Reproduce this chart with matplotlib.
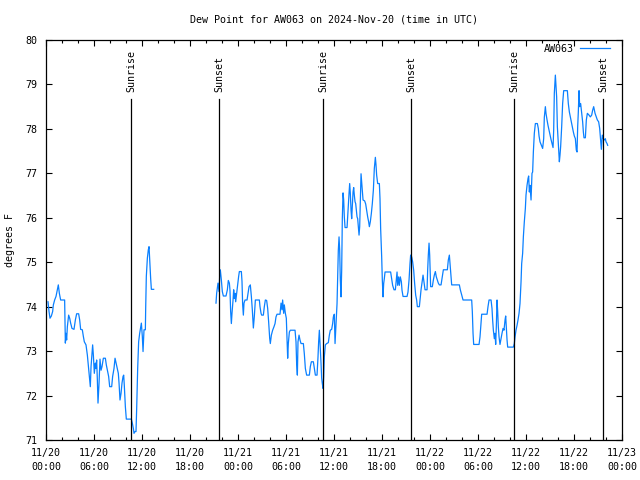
import numpy as np
import pandas as pd
import matplotlib
matplotlib.use("Agg")
import matplotlib.pyplot as plt
import matplotlib.dates as mdates

plt.rcParams['font.family'] = ['DejaVu Sans Mono']
plt.rcParams['font.size'] = 7.2

start = pd.Timestamp("2024-11-20 00:00")
x_end = pd.Timestamp("2024-11-23 00:00")

# hours after 11/20 00:00 UTC and dew point (F); the record has a gap after 13:30
hours_a = [0.25, 0.38, 0.5, 0.67, 0.83, 0.92, 1.08, 1.25, 1.42, 1.54, 1.67, 1.83, 2.33, 2.38, 2.42,
           2.5, 2.58, 2.67, 2.83, 2.96, 3.08, 3.25, 3.5, 3.67, 3.83, 4.08, 4.21, 4.33, 4.54, 4.67,
           4.79, 5.0, 5.17, 5.29, 5.42, 5.54, 5.63, 5.75, 5.83, 5.92, 6.0, 6.04, 6.17, 6.25, 6.33,
           6.42, 6.5, 6.63, 6.75, 6.88, 7.0, 7.17, 7.42, 7.54, 7.67, 7.83, 7.96, 8.21, 8.33, 8.5,
           8.63, 8.75, 8.92, 9.04, 9.13, 9.25, 9.38, 9.5, 9.63, 9.71, 9.79, 9.92, 10.04, 10.67,
           10.79, 10.92, 11.0, 11.13, 11.25, 11.33, 11.46, 11.58, 11.71, 11.83, 11.92, 12.04,
           12.13, 12.25, 12.42, 12.46, 12.54, 12.67, 12.79, 12.88, 12.96, 13.08, 13.17, 13.46]
dew_a = [74.11, 73.89, 73.74, 73.79, 73.89, 74.04, 74.15, 74.23, 74.38, 74.49, 74.30, 74.15, 74.15,
         73.66, 73.18, 73.40, 73.25, 73.55, 73.81, 73.74, 73.63, 73.51, 73.49, 73.70, 73.84, 73.84,
         73.70, 73.49, 73.48, 73.33, 73.21, 73.14, 72.91, 72.69, 72.43, 72.20, 72.65, 72.95, 73.14,
         72.91, 72.65, 72.50, 72.73, 72.61, 72.80, 72.35, 71.83, 72.28, 72.82, 72.57, 72.65, 72.84,
         72.84, 72.69, 72.57, 72.43, 72.20, 72.20, 72.43, 72.61, 72.84, 72.74, 72.61, 72.50, 72.28,
         71.90, 72.05, 72.28, 72.43, 72.46, 72.22, 71.75, 71.47, 71.47, 71.38, 71.26, 71.15, 71.19,
         71.19, 71.68, 72.61, 73.21, 73.40, 73.54, 73.63, 73.33, 72.99, 73.48, 73.48, 73.96, 74.68,
         75.09, 75.28, 75.35, 75.05, 74.64, 74.39, 74.39]

hours_b = [21.25, 21.33, 21.5, 21.63, 21.71, 21.79, 21.92, 22.04, 22.17, 22.5, 22.67, 22.79, 22.92,
           23.0, 23.08, 23.17, 23.25, 23.38, 23.46, 23.54, 23.63, 23.71, 23.83, 23.96, 24.08, 24.17,
           24.42, 24.5, 24.58, 24.67, 24.75, 24.88, 25.13, 25.25, 25.38, 25.54, 25.67, 25.79, 25.92,
           26.04, 26.17, 26.67, 26.75, 26.88, 26.96, 27.17, 27.29, 27.42, 27.58, 27.71, 27.83, 27.96,
           28.04, 28.17, 28.33, 28.5, 28.63, 28.75, 28.88, 29.25, 29.38, 29.5, 29.58, 29.71, 29.79,
           29.92, 30.04, 30.13, 30.21, 30.29, 30.42, 30.54, 31.13, 31.25, 31.33, 31.42, 31.5, 31.63,
           31.75, 31.88, 32.17, 32.29, 32.42, 32.58, 32.92, 33.04, 33.17, 33.42, 33.54, 33.67, 33.88,
           34.0, 34.08, 34.17, 34.25,
           34.38, 34.46, 34.54, 34.63, 34.71, 34.79, 34.92, 35.08, 35.29, 35.42, 35.54, 35.71, 35.83,
           35.92, 36.04, 36.13, 36.21, 36.29, 36.38, 36.46, 36.54, 36.63, 36.71, 36.79, 36.88, 36.96,
           37.04, 37.13, 37.21, 37.29, 37.38, 37.63, 37.75, 37.88, 37.96, 38.04, 38.13, 38.21, 38.29,
           38.38, 38.46, 38.54, 38.63, 38.71, 38.79, 38.88, 38.96, 39.04, 39.13, 39.21, 39.29, 39.38,
           39.46, 39.54, 39.63, 39.83, 39.96, 40.08, 40.21, 40.33, 40.42, 40.54, 40.67, 40.79, 40.92,
           41.04, 41.17, 41.25, 41.33, 41.46, 41.67, 41.75, 41.83, 41.96, 42.04, 42.13, 42.21, 42.29,
           42.38, 43.08, 43.21, 43.33, 43.5, 43.67, 43.79, 43.88, 43.96, 44.08, 44.17, 44.29, 44.42,
           44.5, 44.63, 45.13, 45.25, 45.38, 45.5, 45.58, 45.71, 45.83, 45.96, 46.08, 46.21, 46.33,
           46.42, 46.67,
           46.75, 46.88, 47.0, 47.13, 47.25, 47.38, 47.63, 47.71, 47.79, 47.88, 47.96, 48.08, 48.29,
           48.42, 48.54, 48.67, 48.79, 48.92, 49.04, 49.17, 49.38, 49.54, 49.67, 50.17, 50.29, 50.42,
           50.5, 50.63, 50.71, 51.67, 51.79, 51.96, 52.13, 53.21, 53.29, 53.38, 53.46, 54.13, 54.25,
           54.38, 54.46, 55.13, 55.25, 55.38, 55.63, 55.75, 55.83, 55.92, 56.04, 56.13, 56.21, 56.29,
           56.38, 56.46, 56.54, 56.63, 56.75, 56.88, 57.0, 57.13, 57.25, 57.38, 57.46, 57.54, 57.63,
           57.71, 58.42,
           58.54, 58.63, 58.75, 58.88, 59.0, 59.13, 59.25, 59.38, 59.46, 59.58, 59.67, 59.79, 59.92,
           60.0, 60.13, 60.25, 60.33, 60.42, 60.5, 60.63, 60.75, 60.83, 60.92, 61.04, 61.17, 61.42,
           61.54, 61.63, 61.75, 61.92, 62.08, 62.21, 62.29, 62.42, 62.5, 62.63, 62.75, 62.88, 63.0,
           63.13, 63.25, 63.38, 63.46, 63.54, 63.67, 63.75, 63.83, 63.92, 64.04, 64.17, 64.25, 64.33,
           64.46, 64.58, 64.71, 65.17, 65.29, 65.42, 65.54, 65.67, 65.79, 65.92, 66.04, 66.17, 66.29,
           66.38, 66.46, 66.54, 66.63, 66.71, 66.83, 66.96, 67.08, 67.17, 67.25, 67.42, 67.54, 67.67,
           67.88, 68.04, 68.21, 68.33, 68.46, 68.63, 68.79, 68.92, 69.08, 69.21, 69.33, 69.42, 69.54,
           69.67, 69.79, 69.92, 70.0, 70.13, 70.21]
dew_b = [74.08, 74.30, 74.53, 74.34, 74.68, 74.83, 74.60, 74.34, 74.24, 74.24, 74.38, 74.59, 74.53,
         74.36, 73.89, 73.62, 73.85, 74.15, 74.38, 74.19, 74.30, 74.11, 74.30, 74.49, 74.68, 74.79,
         74.79, 74.57, 74.05, 73.81, 74.08, 74.15, 74.15, 74.30, 74.45, 74.49, 74.23, 73.93, 73.52,
         73.78, 74.15, 74.15, 74.00, 73.85, 73.81, 73.81, 74.00, 74.15, 74.14, 73.96, 73.66, 73.29,
         73.17, 73.36, 73.47, 73.55, 73.62, 73.77, 73.83, 73.83, 74.08, 73.93, 74.15, 73.85, 74.04,
         73.85, 73.74, 73.25, 72.84, 73.17, 73.43, 73.47, 73.47, 73.21, 72.72, 72.46, 73.21, 73.36,
         73.25, 73.17, 73.17, 72.94, 72.61, 72.46, 72.46, 72.65, 72.76, 72.76, 72.61, 72.46, 72.46,
         72.87, 73.21, 73.47, 73.19,
         72.72, 72.39, 72.27, 72.16, 72.42, 72.87, 73.14, 73.17, 73.19, 73.36, 73.47, 73.49, 73.62,
         73.77, 73.83, 73.17, 73.47, 73.77, 74.07, 74.67, 75.27, 75.57, 75.27, 74.60, 74.22, 74.82,
         75.98, 76.56, 76.40, 76.02, 75.78, 75.78, 76.17, 76.55, 76.77, 76.55, 76.17, 75.98, 76.28,
         76.58, 76.68, 76.51, 76.36, 76.32, 76.17, 76.02, 75.98, 75.80, 75.61, 75.80, 76.40, 76.99,
         76.81, 76.62, 76.40, 76.38, 76.31, 76.17, 76.02, 75.91, 75.80, 75.91, 76.10, 76.32, 76.62,
         77.11, 77.36, 77.19, 76.96, 76.77, 76.77, 76.43, 75.76, 75.12, 74.60, 74.22, 74.52, 74.63,
         74.78, 74.78, 74.63, 74.48, 74.38, 74.38, 74.60, 74.78, 74.48, 74.67, 74.48, 74.67, 74.56,
         74.37, 74.23, 74.23, 74.33, 74.60, 74.97, 75.16, 75.12, 75.01, 74.82, 74.52, 74.26, 74.15,
         74.00, 74.00,
         74.15, 74.38, 74.53, 74.71, 74.56, 74.38, 74.38, 74.83, 75.16, 75.43, 75.16, 74.45, 74.45,
         74.60, 74.71, 74.79, 74.67, 74.60, 74.53, 74.49, 74.49, 74.67, 74.83, 74.83, 75.05, 75.16,
         74.98, 74.67, 74.49, 74.49, 74.38, 74.26, 74.15, 74.15, 73.89, 73.40, 73.15, 73.15, 73.32,
         73.62, 73.83, 73.83, 74.00, 74.15, 74.15, 73.96, 73.70, 73.47, 73.28, 73.40, 73.15, 73.55,
         74.15, 73.89, 73.55, 73.32, 73.15, 73.28, 73.40, 73.51, 73.47, 73.70, 73.79, 73.55, 73.25,
         73.09, 73.09,
         73.17, 73.32, 73.47, 73.58, 73.70, 73.85, 74.07, 74.56, 74.97, 75.20, 75.57, 75.91, 76.21,
         76.51, 76.73, 76.88, 76.94, 76.58, 76.73, 76.40, 77.00, 77.03, 77.48, 77.90, 78.12, 78.12,
         78.01, 77.84, 77.71, 77.63, 77.56, 77.78, 78.26, 78.50, 78.35, 78.20, 78.08, 77.97, 77.86,
         77.76, 77.67, 77.58, 77.97, 78.80, 79.21, 78.95, 78.72, 78.05, 77.67, 77.26, 77.41, 77.60,
         78.05, 78.57, 78.86, 78.86, 78.57, 78.38, 78.27, 78.16, 78.05, 77.93, 77.84, 77.78, 77.52,
         77.48, 78.05, 78.38, 78.86, 78.50, 78.57, 78.35, 78.16, 77.93, 77.80, 77.80, 78.20, 78.35,
         78.31, 78.27, 78.31, 78.42, 78.50, 78.35, 78.27, 78.20, 78.16, 78.01, 77.75, 77.54, 77.86,
         77.78, 77.75, 77.78, 77.71, 77.67, 77.63]

sunrise = ["2024-11-20 10:40", "2024-11-21 10:40", "2024-11-22 10:33"]
sunset = ["2024-11-20 21:38", "2024-11-21 21:38", "2024-11-22 21:40"]

hours = hours_a + [np.nan] + hours_b
dew = dew_a + [np.nan] + dew_b
times = [start + pd.Timedelta(hours=h) if not np.isnan(h) else pd.NaT for h in hours]
times = pd.to_datetime(times)

fig = plt.figure(figsize=(6.4, 4.8), dpi=100)
ax = fig.add_axes([46 / 640, 40 / 480, 576 / 640, 400 / 480])

ax.plot(times, dew, color='#0a80ff', lw=0.9, label='AW063')

# sunrise / sunset markers
events = [(t, 'Sunrise') for t in sunrise] + [(t, 'Sunset') for t in sunset]
for t, name in events:
    t = pd.Timestamp(t)
    ax.plot([t, t], [71, 78.67], color='black', lw=0.9)
    ax.text(t, 78.83, name, rotation=90, ha='center', va='bottom')

ax.set_xlim(start, x_end)
ax.set_ylim(71, 80)
ax.set_yticks(range(71, 81))
ax.xaxis.set_major_locator(mdates.HourLocator(byhour=[0, 6, 12, 18]))
ax.xaxis.set_minor_locator(mdates.HourLocator(byhour=range(0, 24, 2)))
ax.xaxis.set_major_formatter(mdates.DateFormatter('%m/%d\n%H:%M'))

ax.tick_params(which='both', direction='in', top=True, right=True, width=0.8, labelsize=7.2)
ax.tick_params(which='major', length=4.5)
ax.tick_params(which='minor', length=2.5)
ax.tick_params(axis='x', pad=6)
ax.tick_params(axis='y', pad=6)
for lbl in ax.get_xticklabels():
    lbl.set_linespacing(1.45)
for s in ax.spines.values():
    s.set_linewidth(0.9)

ax.set_ylabel('degrees F')
ax.yaxis.set_label_coords(-0.053, 0.5)

fig.text(334 / 640, 1 - 19 / 480, 'Dew Point for AW063 on 2024-Nov-20 (time in UTC)',
         ha='center', va='center')

ax.legend(loc='upper right', frameon=False, markerfirst=False, handlelength=3.0,
          handletextpad=0.6, borderaxespad=0.8, bbox_to_anchor=(1.0, 1.02))

fig.savefig('out.png', dpi=100)
